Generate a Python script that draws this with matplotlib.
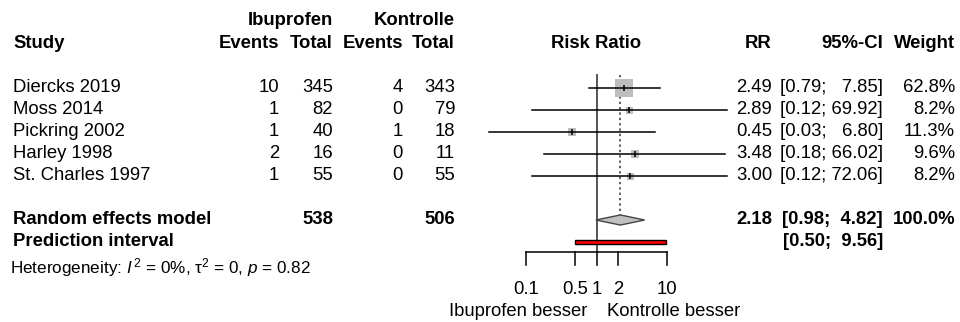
import matplotlib
matplotlib.use("Agg")
import matplotlib.pyplot as plt

plt.rcParams['font.family'] = ['Liberation Sans', 'DejaVu Sans']
plt.rcParams['mathtext.fontset'] = 'custom'
plt.rcParams['mathtext.rm'] = 'Liberation Sans'
plt.rcParams['mathtext.it'] = 'Liberation Sans:italic'

# Daten
studien = ["Diercks 2019", "Moss 2014", "Pickring 2002", "Harley 1998", "St. Charles 1997"]
ibu_events = [10, 1, 1, 2, 1]
ibu_total = [345, 82, 40, 16, 55]
kon_events = [4, 0, 1, 0, 0]
kon_total = [343, 79, 18, 11, 55]
rr = [2.49, 2.89, 0.45, 3.48, 3.00]
ci_low = [0.79, 0.12, 0.03, 0.18, 0.12]
ci_high = [7.85, 69.92, 6.80, 66.02, 72.06]
gewicht = [62.8, 8.2, 11.3, 9.6, 8.2]

re_rr, re_low, re_high = 2.18, 0.98, 4.82
pi_low, pi_high = 0.50, 9.56
summe_ibu, summe_kon = 538, 506
ticks = [0.1, 0.5, 1, 2, 10]
tick_labels = ["0.1", "0.5", "1", "2", "10"]

fig = plt.figure(figsize=(9.6, 3.22), dpi=100)
ax = fig.add_axes([0, 0, 1, 1])
ax.set_xscale("log")
# 70.5 px pro Dekade, RR=1 bei x=596.5 px
ax.set_xlim(10 ** (-596.5 / 70.5), 10 ** ((960 - 596.5) / 70.5))
ax.set_ylim((322 - 66) / 22, -66 / 22)
ax.axis("off")

tr = ax.get_yaxis_transform()
fs = 13.3


def txt(xpx, y, s, ha="left", bold=False, size=fs):
    ax.text(xpx / 960, y, s, transform=tr, ha=ha, va="center", fontsize=size,
            fontweight="bold" if bold else "normal")


# Kopfzeilen
txt(333, -2.05, "Ibuprofen", ha="right", bold=True)
txt(455, -2.05, "Kontrolle", ha="right", bold=True)
txt(13, -1.0, "Study", bold=True)
txt(279, -1.0, "Events", ha="right", bold=True)
txt(333, -1.0, "Total", ha="right", bold=True)
txt(403, -1.0, "Events", ha="right", bold=True)
txt(455, -1.0, "Total", ha="right", bold=True)
txt(596, -1.0, "Risk Ratio", ha="center", bold=True)
txt(772, -1.0, "RR", ha="right", bold=True)
txt(883, -1.0, "95%-CI", ha="right", bold=True)
txt(955, -1.0, "Weight", ha="right", bold=True)

# Studienzeilen
wmax = max(gewicht)
for i, name in enumerate(studien):
    y = i + 1
    txt(13, y, name)
    txt(279, y, str(ibu_events[i]), ha="right")
    txt(333, y, str(ibu_total[i]), ha="right")
    txt(403, y, str(kon_events[i]), ha="right")
    txt(455, y, str(kon_total[i]), ha="right")
    txt(772, y, f"{rr[i]:.2f}", ha="right")
    hi = f"{ci_high[i]:.2f}"
    if len(hi) < 5:
        hi = "  " + hi
    txt(883, y, f"[{ci_low[i]:.2f}; {hi}]", ha="right")
    txt(955, y, f"{gewicht[i]:.1f}%", ha="right")

    ax.plot([ci_low[i], ci_high[i]], [y, y], color="black", lw=1.1, zorder=3)
    seite = max(18 * (gewicht[i] / wmax) ** 0.5, 7)
    ax.scatter([rr[i]], [y], marker="s", s=(seite * 0.72) ** 2,
               color="#bdbdbd", zorder=2, linewidths=0)
    ax.scatter([rr[i]], [y], marker="|", s=22, color="black", lw=1.1, zorder=4)

# Zusammenfassung
txt(13, 7, "Random effects model", bold=True)
txt(333, 7, str(summe_ibu), ha="right", bold=True)
txt(455, 7, str(summe_kon), ha="right", bold=True)
txt(772, 7, f"{re_rr:.2f}", ha="right", bold=True)
txt(883, 7, f"[{re_low:.2f};  {re_high:.2f}]", ha="right", bold=True)
txt(955, 7, "100.0%", ha="right", bold=True)
txt(13, 8, "Prediction interval", bold=True)
txt(883, 8, f"[{pi_low:.2f};  {pi_high:.2f}]", ha="right", bold=True)
txt(10, 9.14, r"Heterogeneity: $I^{\,2}$ = 0%, τ$^{2}$ = 0, $p$ = 0.82", size=12.3)

ax.fill([re_low, re_rr, re_high, re_rr], [7, 6.77, 7, 7.23],
        facecolor="#c0c0c0", edgecolor="#444444", lw=1, zorder=3)
ax.barh(8, width=pi_high - pi_low, left=pi_low, height=0.22,
        color="red", edgecolor="black", lw=1, zorder=3)

# Referenzlinien
ax.plot([1, 1], [0.41, 8.45], color="#555555", lw=1.4, zorder=1)
ax.plot([re_rr, re_rr], [0.41, 6.77], color="#333333", lw=1.1,
        linestyle=(0, (1.5, 2)), zorder=1)

# x-Achse
ax.plot([ticks[0], ticks[-1]], [8.45, 8.45], color="black", lw=1.1)
for t, lab in zip(ticks, tick_labels):
    ax.plot([t, t], [8.45, 9.05], color="black", lw=1.1)
    ax.text(t, 10.18, lab, ha="center", va="center", fontsize=fs)
txt(587, 11.14, "Ibuprofen besser", ha="right")
txt(607, 11.14, "Kontrolle besser", ha="left")

fig.savefig("out.png", dpi=100)
